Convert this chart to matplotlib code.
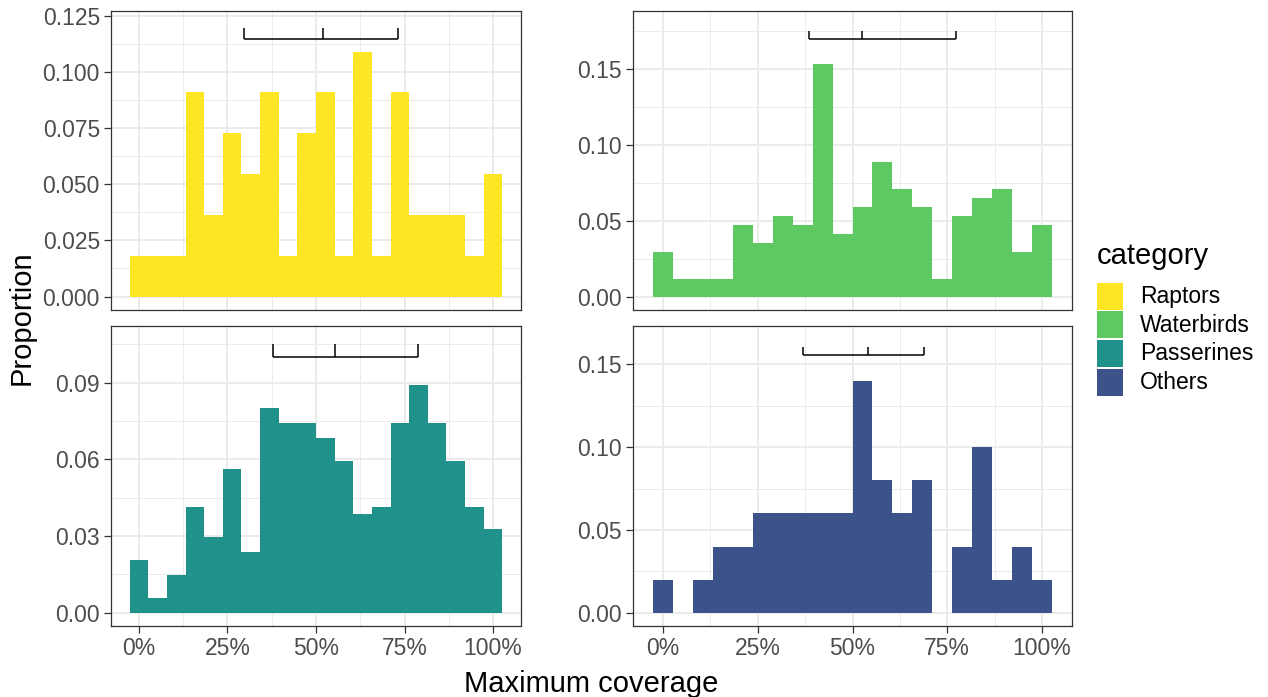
import numpy as np
import matplotlib.pyplot as plt
from matplotlib.patches import Rectangle

plt.rcParams['font.family'] = ['Liberation Sans', 'DejaVu Sans']

# data (proportions per bin, 20 bins over 0..100%)
categories = ['Raptors', 'Waterbirds', 'Passerines', 'Others']
colors = ['#FDE725', '#5EC962', '#21918C', '#3B528B']

raptors = [0.0182, 0.0182, 0.0182, 0.0909, 0.0364, 0.0727, 0.0545, 0.0909, 0.0182, 0.0727,
           0.0909, 0.0182, 0.1091, 0.0182, 0.0909, 0.0364, 0.0364, 0.0364, 0.0182, 0.0545]
waterbirds = [0.0296, 0.0118, 0.0118, 0.0118, 0.0473, 0.0355, 0.0533, 0.0473, 0.1538, 0.0414,
              0.0592, 0.0888, 0.0710, 0.0592, 0.0118, 0.0533, 0.0651, 0.0710, 0.0296, 0.0473]
passerines = [0.0208, 0.0059, 0.0148, 0.0415, 0.0297, 0.0564, 0.0237, 0.0801, 0.0742, 0.0742,
              0.0682, 0.0593, 0.0386, 0.0415, 0.0742, 0.0890, 0.0742, 0.0593, 0.0415, 0.0326]
others = [0.02, 0.0, 0.02, 0.04, 0.04, 0.06, 0.06, 0.06, 0.06, 0.06,
          0.14, 0.08, 0.06, 0.08, 0.0, 0.04, 0.10, 0.02, 0.04, 0.02]

# summary bars: (low, median, high, y)
summaries = [(0.297, 0.519, 0.731, 0.1147),
             (0.385, 0.524, 0.772, 0.170),
             (0.378, 0.555, 0.789, 0.100),
             (0.369, 0.541, 0.688, 0.1557)]

yticks = [[0, 0.025, 0.05, 0.075, 0.1, 0.125],
          [0, 0.05, 0.10, 0.15],
          [0, 0.03, 0.06, 0.09],
          [0, 0.05, 0.10, 0.15]]
ytick_labels = [['0.000', '0.025', '0.050', '0.075', '0.100', '0.125'],
                ['0.00', '0.05', '0.10', '0.15'],
                ['0.00', '0.03', '0.06', '0.09'],
                ['0.00', '0.05', '0.10', '0.15']]
ylims = [(-0.006, 0.1272), (-0.0088, 0.1885), (-0.0052, 0.1122), (-0.008, 0.1732)]

xticks = [0, 0.25, 0.5, 0.75, 1.0]
xtick_labels = ['0%', '25%', '50%', '75%', '100%']

values = [raptors, waterbirds, passerines, others]
edges = np.linspace(-1 / 38, 1 + 1 / 38, 21)

W, H = 1268, 697
fig = plt.figure(figsize=(W / 100, H / 100), dpi=100)

# panel boxes in pixels: left, top, right, bottom
boxes = [(111, 11, 521, 310), (633, 11, 1072, 310),
         (111, 326, 521, 626), (633, 326, 1072, 626)]

grid_col = '#EBEBEB'
for i, (l, t, r, b) in enumerate(boxes):
    ax = fig.add_axes([l / W, 1 - b / H, (r - l) / W, (b - t) / H])
    ax.set_axisbelow(True)
    ax.stairs(values[i], edges, fill=True, color=colors[i], linewidth=0, zorder=2)

    lo, mid, hi, y = summaries[i]
    h = 0.005
    ax.plot([lo, hi], [y, y], color='black', lw=1.1, zorder=3, solid_capstyle='butt')
    for xv in (lo, mid, hi):
        ax.plot([xv, xv], [y, y + h], color='black', lw=1.1, zorder=3, solid_capstyle='butt')

    ax.set_xlim(-0.079, 1.079)
    ax.set_ylim(*ylims[i])
    ax.set_yticks(yticks[i])
    ax.set_yticklabels(ytick_labels[i])
    yt = yticks[i]
    step = yt[1] - yt[0]
    ax.set_yticks([v + step / 2 for v in yt] + [yt[0] - step / 2], minor=True)
    ax.set_xticks(xticks)
    ax.set_xticks([0.125, 0.375, 0.625, 0.875, -0.125, 1.125], minor=True)
    ax.set_xlim(-0.079, 1.079)
    ax.set_ylim(*ylims[i])

    ax.grid(which='major', color=grid_col, lw=1.4)
    ax.grid(which='minor', color=grid_col, lw=0.7)
    ax.tick_params(which='minor', length=0)
    ax.tick_params(which='major', length=5, width=0.9, color='#333333',
                   labelsize=16.5, labelcolor='#4D4D4D', pad=3)
    if i < 2:
        ax.tick_params(axis='x', which='major', length=0, labelbottom=False)
    else:
        ax.set_xticklabels(xtick_labels)
    for s in ax.spines.values():
        s.set_color('#333333')
        s.set_linewidth(0.9)

fig.text(591 / W, 1 - 692 / H, 'Maximum coverage', ha='center', va='baseline', fontsize=21)
fig.text(22 / W, 1 - 318 / H, 'Proportion', ha='center', va='center', rotation=90, fontsize=21)

# legend
fig.text(1097 / W, 1 - 256 / H, 'category', ha='left', va='center', fontsize=21)
key_tops = [283, 311, 340, 369]
for k, name in enumerate(categories):
    top = key_tops[k]
    fig.patches.append(Rectangle((1097 / W, 1 - (top + 27) / H), 26 / W, 27 / H,
                                 transform=fig.transFigure, facecolor=colors[k],
                                 edgecolor='none'))
    fig.text(1140 / W, 1 - (top + 14) / H, name, ha='left', va='center', fontsize=16.5)

fig.savefig('out.png', dpi=100)
